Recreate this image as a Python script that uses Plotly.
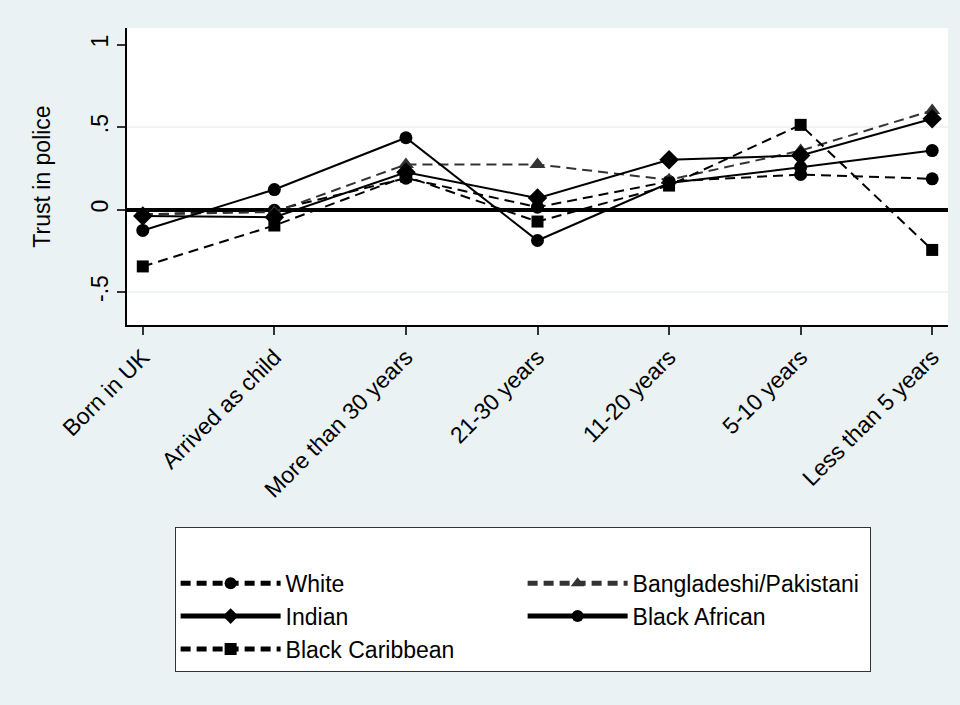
import plotly.graph_objects as go

categories = ["Born in UK", "Arrived as child", "More than 30 years", "21-30 years",
              "11-20 years", "5-10 years", "Less than 5 years"]

white = [-0.03, -0.005, 0.19, 0.014, 0.17, 0.212, 0.186]
bangladeshi_pakistani = [-0.03, -0.015, 0.273, 0.273, 0.18, 0.357, 0.60]
indian = [-0.04, -0.047, 0.226, 0.069, 0.301, 0.327, 0.55]
black_african = [-0.127, 0.121, 0.435, -0.188, 0.16, 0.256, 0.357]
black_caribbean = [-0.345, -0.097, 0.20, -0.073, 0.145, 0.513, -0.245]

y_tickvals = [-0.5, 0, 0.5, 1]
y_ticktext = ["-.5", "0", ".5", "1"]
grid_values = [-0.5, 0.5]

BG = "#EAF2F3"
FONT = "Liberation Sans, Arial, sans-serif"
DASH = "10px,6px"

fig = go.Figure()

series = [
    ("White", white, "circle", 13, "#000000", DASH),
    ("Bangladeshi/Pakistani", bangladeshi_pakistani, "triangle-up", 14, "#333333", DASH),
    ("Indian", indian, "diamond", 15, "#000000", "solid"),
    ("Black African", black_african, "circle", 13, "#000000", "solid"),
    ("Black Caribbean", black_caribbean, "square", 12, "#000000", DASH),
]

for name, vals, sym, size, color, dash in series:
    fig.add_trace(go.Scatter(
        x=categories, y=vals, name=name, mode="lines+markers",
        line=dict(color=color, width=2, dash=dash),
        marker=dict(symbol=sym, size=size, color=color),
    ))

shapes = [dict(type="line", xref="paper", x0=0, x1=1, yref="y", y0=g, y1=g,
               line=dict(color=BG, width=1.5), layer="below") for g in grid_values]

fig.update_layout(
    width=960, height=705,
    paper_bgcolor=BG, plot_bgcolor="white",
    margin=dict(l=127, r=12, t=28, b=380),
    font=dict(family=FONT, size=23, color="#000000"),
    shapes=shapes,
    showlegend=True,
    legend=dict(
        orientation="h", x=0.058, y=-0.68, xanchor="left", yanchor="top",
        bgcolor="white", bordercolor="#333333", borderwidth=1,
        itemwidth=100, entrywidth=232, itemsizing="constant",
        font=dict(family=FONT, size=23),
        title=dict(text=" ", side="top", font=dict(size=26)),
        tracegroupgap=0,
    ),
    xaxis=dict(
        type="category", range=[-0.12, 6.12],
        showline=True, linecolor="#000000", linewidth=1.5,
        ticks="outside", ticklen=8, tickcolor="#333333", tickwidth=1.5,
        tickangle=-45, showgrid=False, zeroline=False,
        tickfont=dict(family=FONT, size=23),
    ),
    yaxis=dict(
        range=[-0.70, 1.10], tickvals=y_tickvals, ticktext=y_ticktext,
        showline=True, linecolor="#000000", linewidth=1.5,
        ticks="outside", ticklen=8, tickcolor="#333333", tickwidth=1.5,
        tickangle=-90, showgrid=False,
        zeroline=True, zerolinecolor="#000000", zerolinewidth=3.5,
        title=dict(text="Trust in police", font=dict(family=FONT, size=23), standoff=30),
        tickfont=dict(family=FONT, size=23),
    ),
)

fig.write_html("out.html", config={"displayModeBar": False},
               post_script="document.body.style.margin='0';")
